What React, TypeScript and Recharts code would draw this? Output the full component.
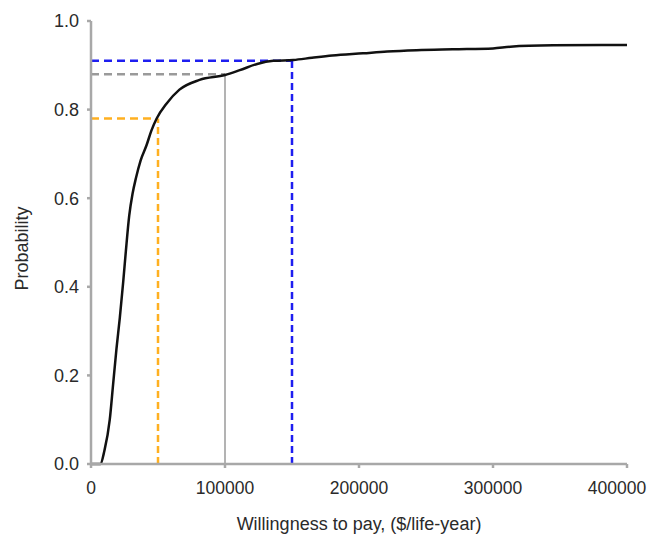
import { LineChart, Line, XAxis, YAxis, ReferenceLine, Label } from 'recharts';

// willingness-to-pay values ($/life-year) and probability cost-effective
const wtp = [
  0, 7000, 10000, 14000, 16500, 19000, 21500, 24000, 26000, 28500, 31000, 33500, 37000, 41500,
  45000, 49000, 56000, 66000, 81000, 100000, 111000, 124000, 136000, 151000, 165000, 180000,
  203000, 221000, 243000, 270000, 300000, 313000, 345000, 400000,
];
const prob = [
  0, 0, 0.03, 0.1, 0.18, 0.26, 0.33, 0.41, 0.48, 0.56, 0.61, 0.645, 0.685, 0.72,
  0.752, 0.78, 0.812, 0.845, 0.867, 0.878, 0.889, 0.903, 0.91, 0.912, 0.917, 0.922,
  0.927, 0.931, 0.934, 0.936, 0.938, 0.942, 0.945, 0.946,
];

// thresholds marked with guide lines
const thresholdWtp = [50000, 100000, 150000];
const thresholdProb = [0.78, 0.88, 0.91];
const thresholdColors = ['#ffb020', '#9a9a9a', '#1e1ef0'];

const xTicks = [0, 100000, 200000, 300000, 400000];
const yTicks = [0, 0.2, 0.4, 0.6, 0.8, 1.0];

const data = wtp.map((x, i) => ({ x, p: prob[i] }));

const font = '"Liberation Sans", Arial, sans-serif';
const axisColor = '#a8a8a8';
const tickStyle = { fontSize: 18, fill: '#2a2a2a', fontFamily: font };

// x tick: last label nudged left so it stays inside the page
const XTick = ({ x, y, payload, index }: any) => (
  <text
    x={x + (index === xTicks.length - 1 ? -10 : 0)}
    y={y}
    dy="0.71em"
    textAnchor="middle"
    style={{ fontSize: 17.5, fill: '#2a2a2a', fontFamily: font }}
  >
    {payload.value}
  </text>
);

export default function App() {
  return (
    <LineChart
      width={645}
      height={526}
      data={data}
      margin={{ top: 13, right: 26, left: 0, bottom: 0 }}
    >
      <XAxis
        dataKey="x"
        type="number"
        domain={[0, 400000]}
        ticks={xTicks}
        interval={0}
        height={70}
        stroke={axisColor}
        strokeWidth={2.5}
        tickSize={4}
        tickMargin={14}
        tick={<XTick />}
      >
        <Label
          value="Willingness to pay, ($/life-year)"
          position="insideBottom"
          offset={4}
          style={{ fontSize: 18, fill: '#2a2a2a', fontFamily: font }}
        />
      </XAxis>
      <YAxis
        type="number"
        domain={[0, 1]}
        ticks={yTicks}
        interval={0}
        width={83}
        stroke={axisColor}
        strokeWidth={2.5}
        tickSize={4}
        tickMargin={8}
        tick={tickStyle}
        tickFormatter={(v: number) => v.toFixed(1)}
      >
        <Label
          content={({ viewBox }: any) => {
            const cx = viewBox.x + 14;
            const cy = viewBox.y + viewBox.height / 2 + 6;
            return (
              <text
                x={cx}
                y={cy}
                transform={`rotate(-90 ${cx} ${cy})`}
                textAnchor="middle"
                dominantBaseline="central"
                style={{ fontSize: 18, fill: '#2a2a2a', fontFamily: font }}
              >
                Probability
              </text>
            );
          }}
        />
      </YAxis>
      {thresholdWtp.map((t, i) => (
        <ReferenceLine
          key={`h${i}`}
          segment={[{ x: 0, y: thresholdProb[i] }, { x: t, y: thresholdProb[i] }]}
          stroke={thresholdColors[i]}
          strokeWidth={2.5}
          strokeDasharray="8 5"
        />
      ))}
      {thresholdWtp.map((t, i) => (
        <ReferenceLine
          key={`v${i}`}
          segment={[{ x: t, y: 0 }, { x: t, y: thresholdProb[i] }]}
          stroke={thresholdColors[i]}
          strokeWidth={i === 1 ? 1.5 : 2.5}
          strokeDasharray={i === 1 ? undefined : '7 4'}
        />
      ))}
      <Line
        type="monotone"
        dataKey="p"
        stroke="#111"
        strokeWidth={2.5}
        dot={false}
        isAnimationActive={false}
      />
    </LineChart>
  );
}
